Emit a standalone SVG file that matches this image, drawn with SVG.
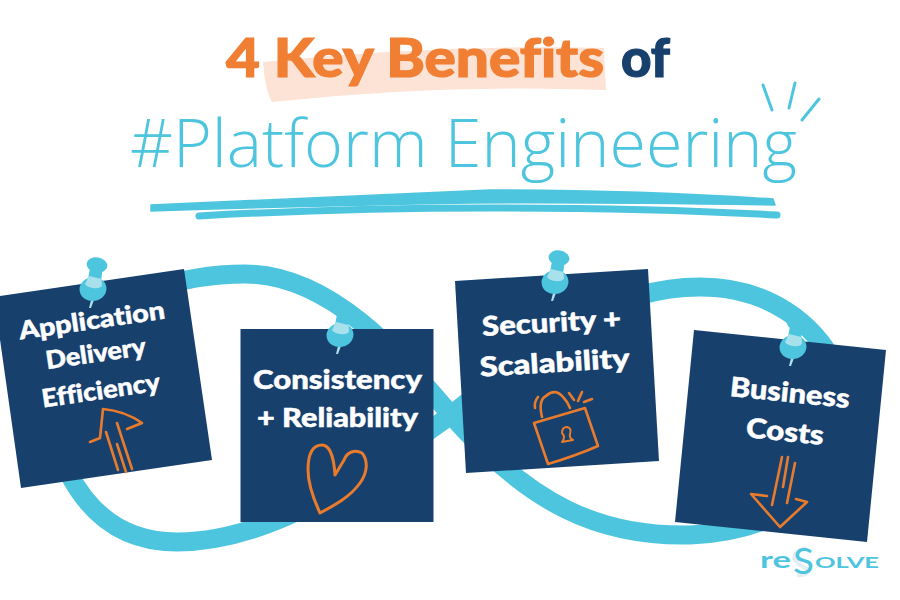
<svg xmlns="http://www.w3.org/2000/svg" width="900" height="600" viewBox="0 0 900 600">
<style>
text{font-variant-ligatures:none}
.note{fill:#17406D}
.lbl{font-family:"Lato","Liberation Sans",sans-serif;font-weight:900;fill:#fff;stroke:#fff;stroke-width:.5;text-anchor:middle}
.head{font-family:"Lato","Liberation Sans",sans-serif;font-weight:900;font-size:53px;stroke-width:1.200}
.ico{fill:none;stroke:#E97B2C;stroke-width:2.6;stroke-linecap:round;stroke-linejoin:round}
.pin{fill:#4DC5DE}
.pinl{fill:#A8E0EC}
.spark{fill:none;stroke:#4DC5DE;stroke-width:3;stroke-linecap:round}
.logo{font-family:"Lato","Liberation Sans",sans-serif;font-weight:700;fill:#4DC5DE}
</style>
<defs>
<g id="pinshape">
<path class="pinl" d="M-2 11 L1 11 L-2 19 L-4 19 Z"/>
<ellipse class="pin" cx="0" cy="0" rx="13.500" ry="12" transform="rotate(-10)"/>
<path class="pin" d="M-2 -26 L10 -23 L8 -8 L-5 -10 Z"/>
<path class="pinl" d="M-4 -13 L8.500 -10 L9 -3 Q6 0 0 -1 Q-6 -2 -8 -5 Z"/>
<ellipse class="pin" cx="4" cy="-24" rx="10.500" ry="7.500" transform="rotate(10 4 -24)"/>
</g>
</defs>
<rect width="900" height="600" fill="#fff"/>
<g id="title">
<path d="M263 62 Q440 44 604 48 L606 90 Q440 84 272 102 Q265 90 263 62 Z" fill="#FCE3D5"/>
<text class="head" x="226" y="77" fill="#F07F34" stroke="#F07F34" textLength="378" lengthAdjust="spacingAndGlyphs">4 Key Benefits</text>
<text class="head" x="621" y="77" fill="#17406D" stroke="#17406D" textLength="49" lengthAdjust="spacingAndGlyphs">of</text>
<text x="130" y="167" font-family="'Open Sans',sans-serif" font-weight="300" font-size="67" fill="#4DC5DE" textLength="667" lengthAdjust="spacingAndGlyphs">#Platform Engineering</text>
<path class="spark" d="M763 85 L772 110 M795 83 L789 108 M819 99 L802 120"/>
<path d="M151 205 Q320 198 490 190 Q640 190 773 199 L775 205 Q600 202 470 203 Q300 206 151 211 Z" fill="#4DC5DE" stroke="#4DC5DE" stroke-linejoin="round" stroke-width="1.500"/>
<path d="M199 216 Q340 208 490 208 Q650 208 777 215" fill="none" stroke="#4DC5DE" stroke-width="7" stroke-linecap="round"/>
</g>
<g id="connectors">
<path d="M68 472 C95 525 135 542 177 542 C270 542 360 480 451 415 C510 370 590 287 700 287 C770 287 815 325 835 365 C880 450 810 530 690 535 C600 537 530 505 451 415 C400 355 330 274 245 274 C200 274 170 283 150 290" fill="none" stroke="#4DC5DE" stroke-width="19"/>
</g>
<g id="node-application">
<polygon class="note" points="-6,297 184,269 212,460 21,488"/>
<text class="lbl" font-size="25" textLength="147" lengthAdjust="spacingAndGlyphs" transform="translate(93 329) rotate(-8.300)">Application</text>
<text class="lbl" font-size="25" textLength="101" lengthAdjust="spacingAndGlyphs" transform="translate(97 362) rotate(-8.300)">Delivery</text>
<text class="lbl" font-size="25" textLength="119" lengthAdjust="spacingAndGlyphs" transform="translate(102 399) rotate(-8.300)">Efficiency</text>
<path class="ico" d="M90 442 L100 438 L103 409 Q125 411 142 423 L127 429 M106 432 L118 470 M117 423 L132 469 M117 444 L126 472"/>
<use href="#pinshape" x="93" y="289"/>
</g>
<g id="node-consistency">
<rect class="note" x="240.500" y="329" width="193" height="193"/>
<text class="lbl" x="337.500" y="389" font-size="27" textLength="169" lengthAdjust="spacingAndGlyphs">Consistency</text>
<text class="lbl" x="337.500" y="427" font-size="27" textLength="161" lengthAdjust="spacingAndGlyphs">+ Reliability</text>
<path class="ico" style="stroke-width:3" d="M335 475 C334 458 330 445 322 445 C311 445 308 457 308 470 C308 485 314 500 320 513 C335 505 350 497 360 483 C368 472 368 460 362 453 C355 449 347 452 344 460 L335 475"/>
<use href="#pinshape" x="340" y="335"/>
</g>
<g id="node-security">
<polygon class="note" points="455,281 648,269 659,461 466,473"/>
<text class="lbl" font-size="27" textLength="139" lengthAdjust="spacingAndGlyphs" transform="translate(552 332) rotate(-3.400)">Security +</text>
<text class="lbl" font-size="27" textLength="150" lengthAdjust="spacingAndGlyphs" transform="translate(555 372) rotate(-3.400)">Scalability</text>
<path class="ico" d="M534 423 L585 408 L598 446 Q575 456 548 464 Z M542 417 Q538 400 546 396 Q555 388 563 397 Q568 402 570 408 M538 397 Q534 402 535 408 M569 393 L574 400 M582 392 L578 401 M592 399 L584 402"/>
<path class="ico" style="stroke-width:2" d="M562 442 Q566 437 562 433 Q562 427 567 427 Q572 428 570 434 Q569 438 573 440 Z"/>
<use href="#pinshape" x="555" y="282"/>
</g>
<g id="node-business">
<polygon class="note" points="694,330 886,350 867,542 675,522"/>
<text class="lbl" font-size="27" textLength="120" lengthAdjust="spacingAndGlyphs" transform="translate(789 402) rotate(5.800)">Business</text>
<text class="lbl" font-size="27" textLength="78" lengthAdjust="spacingAndGlyphs" transform="translate(784 441) rotate(5.800)">Costs</text>
<path class="ico" d="M782 457 L772 505 M788 457 L783 487 M795 463 L787 503 M767 496 L751 494 L780 527 L807 502 L796 499"/>
<use href="#pinshape" x="793" y="347"/>
</g>
<g id="logo">
<path d="M806 548 Q792 552 795 560 Q800 566 809 570 Q806 576 797 575" fill="none" stroke="#E4EEF3" stroke-width="4"/>
<text class="logo" x="760" y="568" font-size="22" textLength="31" lengthAdjust="spacingAndGlyphs">re</text>
<text class="logo" x="793" y="574" font-size="36" style="font-weight:400" textLength="21" lengthAdjust="spacingAndGlyphs">S</text>
<text class="logo" x="815" y="568" font-size="16" textLength="64" lengthAdjust="spacingAndGlyphs">OLVE</text>
</g>
</svg>
